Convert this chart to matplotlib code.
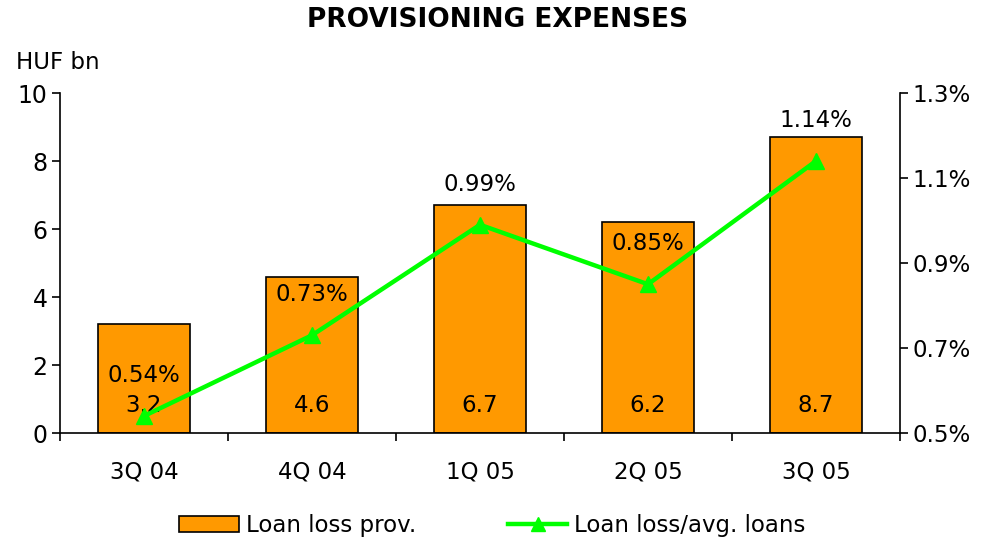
import numpy as np
import matplotlib
matplotlib.use("Agg")
import matplotlib.pyplot as plt
from matplotlib.patches import Patch
from matplotlib.lines import Line2D

quarters = ["3Q 04", "4Q 04", "1Q 05", "2Q 05", "3Q 05"]
provisions = [3.2, 4.6, 6.7, 6.2, 8.7]          # HUF bn
loss_ratio = [0.54, 0.73, 0.99, 0.85, 1.14]     # %

plt.rcParams["font.family"] = ["DejaVu Sans"]
orange = "#FF9900"
green = "#00FF00"
fs = 16.5

fig = plt.figure(figsize=(9.85, 5.42), dpi=100)
ax = fig.add_axes([0.0609, 0.2011, 0.8528, 0.6273])
x = np.arange(len(quarters))

ax.bar(x, provisions, width=0.55, color=orange, edgecolor="black", linewidth=1.2, zorder=2)
ax.set_xlim(-0.5, 4.5)
ax.set_ylim(0, 10)
ax.set_yticks(np.arange(0, 11, 2))
ax.set_xticks(np.arange(-0.5, 5, 1))
ax.set_xticklabels([])
ax.set_xticks(x, minor=True)
ax.set_xticklabels(quarters, minor=True)
ax.tick_params(axis="x", which="minor", length=0, pad=20, labelsize=fs)
ax.tick_params(axis="x", which="major", length=6, width=1.2, direction="out")
ax.tick_params(axis="y", length=6, width=1.2, direction="out", labelsize=17, pad=3)
for s in ["top", "right"]:
    ax.spines[s].set_visible(False)
for s in ["left", "bottom"]:
    ax.spines[s].set_linewidth(1.2)

for xi, v in zip(x, provisions):
    ax.text(xi, 0.8, f"{v:.1f}", ha="center", va="center", fontsize=fs, zorder=5)

ax2 = ax.twinx()
ax2.plot(x, loss_ratio, color=green, linewidth=3.2, marker="^", markersize=11,
         markeredgecolor=green, zorder=4)
ax2.set_ylim(0.5, 1.3)
ax2.set_yticks([0.5, 0.7, 0.9, 1.1, 1.3])
ax2.set_yticklabels([f"{t:.1f}%" for t in [0.5, 0.7, 0.9, 1.1, 1.3]])
ax2.tick_params(axis="y", length=6, width=1.2, direction="out", labelsize=fs, pad=3)
for s in ["top", "left", "bottom"]:
    ax2.spines[s].set_visible(False)
ax2.spines["right"].set_linewidth(1.2)
for xi, r in zip(x, loss_ratio):
    ax2.annotate(f"{r:.2f}%", (xi, r), xytext=(0, 29), textcoords="offset points",
                 ha="center", va="center", fontsize=fs)

fig.text(0.505, 0.963, "PROVISIONING EXPENSES", ha="center", va="center",
         fontsize=19, fontweight="bold")
fig.text(0.016, 0.885, "HUF bn", ha="left", va="center", fontsize=fs)

handles = [Patch(facecolor=orange, edgecolor="black", linewidth=1.2),
           Line2D([0], [0], color=green, linewidth=3.2, marker="^", markersize=10)]
fig.legend(handles, ["Loan loss prov.", "Loan loss/avg. loans"], loc="center",
           bbox_to_anchor=(0.5, 0.03), ncol=2, frameon=False, fontsize=fs,
           handlelength=2.6, handletextpad=0.3, columnspacing=4.0)

fig.savefig("out.png", dpi=100)
